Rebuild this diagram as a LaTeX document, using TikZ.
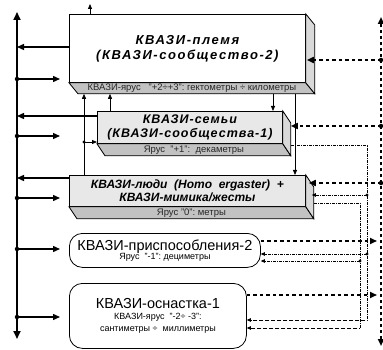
\documentclass[tikz,border=0pt]{standalone}
\usepackage{fontspec}
\setmainfont{Liberation Sans}
\newfontfamily\titlefont[LetterSpace=12]{Liberation Sans}
\newfontfamily\narrowtitlefont[LetterSpace=8]{Liberation Sans}
\usetikzlibrary{arrows.meta,calc}

\definecolor{bandgray}{gray}{0.76}
\definecolor{sidegray}{gray}{0.85}
\definecolor{facegray}{gray}{0.91}

\newcommand{\toolname}{\fontsize{14.5}{16}\selectfont}
\newcommand{\tiersize}{\fontsize{9}{9.5}\selectfont}

\tikzstyle{tier}=[draw,line width=0.8pt,inner sep=1pt,anchor=north west,align=center,font=\titlefont\bfseries\itshape\fontsize{13}{15}\selectfont]
\tikzstyle{tool}=[draw,line width=0.8pt,rounded corners=13pt,inner sep=1pt,anchor=north west,align=center]
\tikzstyle{band}=[font=\fontsize{9.5}{10}\selectfont,text=black!85,inner sep=0pt]
\tikzstyle{junction}=[circle,fill,inner sep=0pt,minimum size=4.5pt]
\tikzstyle{smalldot}=[circle,fill,inner sep=0pt,minimum size=3.2pt]
\tikzstyle{axis}=[draw,line width=1.8pt,{Triangle[length=8pt,width=7pt]}-{Triangle[length=8pt,width=7pt]}]
\tikzstyle{dashaxis}=[draw,line width=1.8pt,dash pattern=on 3pt off 3pt,{Triangle[length=7pt,width=6pt]}-{Triangle[length=7pt,width=6pt]}]
\tikzstyle{solidarrow}=[draw,line width=1.4pt,-{Triangle[length=7pt,width=6pt]}]
\tikzstyle{thinarrow}=[draw,line width=0.8pt,-{Triangle[length=5pt,width=4pt]}]
\tikzstyle{dashedarrow}=[draw,line width=1.6pt,dash pattern=on 3.5pt off 3pt,-{Triangle[length=7pt,width=6pt]}]
\tikzstyle{dashdot}=[draw,line width=0.6pt,dash pattern=on 3pt off 1.2pt on 0.6pt off 1.2pt]
\tikzstyle{dashdotarrow}=[dashdot,-{Triangle[length=4pt,width=3.5pt]}]

\begin{document}
\begin{tikzpicture}[x=1pt,y=-1pt]
\useasboundingbox (0,0) rectangle (383,350);

    % three levels drawn as boxes with depth
    \node[tier,minimum width=236,minimum height=68] (tribe) at (69,14) {КВАЗИ-племя\\(КВАЗИ-сообщество-2)};
    \node[tier,fill=facegray,minimum width=185,minimum height=32,font=\narrowtitlefont\bfseries\itshape\fontsize{12.5}{14}\selectfont] (families) at (97,111) {КВАЗИ-семьи\\(КВАЗИ-сообщества-1)};
    \node[tier,fill=facegray,minimum width=236,minimum height=31,font=\bfseries\itshape\fontsize{12}{13}\selectfont] (people) at (69,175) {КВАЗИ-люди~~(Homo~~ergaster)~~+\\КВАЗИ-мимика/жесты};

    \foreach \b/\dx/\dy in {tribe/9/11, families/8/12, people/8/12} {
        \filldraw[fill=bandgray,line width=0.8pt] (\b.south west) -- (\b.south east) -- ++(\dx,\dy) -- ($(\b.south west)+(\dx,\dy)$) -- cycle;
        \filldraw[fill=sidegray,line width=0.8pt] (\b.north east) -- ++(\dx,\dy) -- ($(\b.south east)+(\dx,\dy)$) -- (\b.south east) -- cycle;
    }
    \node[band] (tribelevel) at ($(tribe.south)+(4.5,5.8)$) {КВАЗИ-ярус~~~"+2÷+3":~гектометры~÷~километры};
    \node[band] (familieslevel) at ($(families.south)+(4,6.2)$) {Ярус~~"+1":~~декаметры};
    \node[band] (peoplelevel) at ($(people.south)+(4,6.2)$) {Ярус~"0":~метры};
    \coordinate (tribebase) at ($(tribe.south)+(0,11)$);

    % lower levels
    \node[tool,minimum width=191,minimum height=34] (adapt) at (69,233) {\toolname КВАЗИ-приспособления-2\\[-3pt]\tiersize Ярус~~"-1":~дециметры};
    \node[tool,minimum width=177,minimum height=65] (gear) at (69,283) {\toolname КВАЗИ-оснастка-1\\[-1pt]\tiersize КВАЗИ-ярус~~"-2÷~-3":\\[-0.5pt]\tiersize сантиметры~÷~~миллиметры};

    % left axis
    \coordinate (axistop) at (17,12);
    \coordinate (axisbot) at (17,339);
    \draw[axis] (axisbot) -- (axistop);

    \foreach \b/\y in {tribe/47,families/116,people/178} {
        \coordinate (in\b) at (17,\y);
        \draw[solidarrow] (in\b -| \b.west) -- (in\b);
    }
    \foreach \n/\y in {a/79,b/136,c/198,d/249,e/317} {
        \node[junction] (out\n) at (17,\y) {};
        \coordinate (tip\n) at (60,\y);
        \draw[solidarrow] (out\n.center) -- (tip\n);
    }

    % links between the levels
    \coordinate (up) at (90,4);
    \draw[thinarrow] (up |- tribe.north) -- (up);
    \coordinate (lka) at (84,0);
    \coordinate (lkb) at (110,0);
    \coordinate (lkc) at (273,0);
    \coordinate (lkd) at (295,0);
    \draw[thinarrow] (lka |- people.north) -- (lka |- tribebase);
    \node[smalldot] (split) at (84,142) {};
    \draw[thinarrow] (split.center) -- (split -| families.west);
    \draw[thinarrow] (lkb |- families.north) -- (lkb |- tribebase);
    \draw[thinarrow] (lkc |- tribebase) -- (lkc |- families.north);
    \draw[thinarrow] (lkd |- tribebase) -- (lkd |- people.north);

    % right axis
    \coordinate (rtop) at (381,17);
    \coordinate (rbot) at (381,346);
    \draw[dashaxis] (rbot) -- (rtop);

    \foreach \b/\y/\dx in {tribe/60/1, families/126/8, people/183/3} {
        \node[junction] (back\b) at (381,\y) {};
        \draw[dashedarrow] (back\b.center) -- ($(back\b -| \b.east)+(\dx,0)$);
    }
    \coordinate (fa) at (377,241);
    \coordinate (fb) at (377,295);
    \draw[dashedarrow] (fa -| adapt.east) -- (fa);
    \draw[dashedarrow] (fb -| gear.east) -- (fb);

    % dash-dot feedback
    \coordinate (busa) at (367,320);
    \coordinate (busb) at (360,328);
    \draw[dashdotarrow] ($(families.south east)+(8,2)$) -| (busa) -- (busa -| gear.east);
    \draw[dashdotarrow] ($(people.south east)+(8,-4)$) -| (busb) -- (busb -| gear.east);
    \node[smalldot] (ja) at (367,195) {};
    \node[smalldot] (jb) at (367,254) {};
    \node[smalldot] (jc) at (360,261) {};
    \draw[dashdotarrow] (ja.center) -- ($(ja -| people.east)+(6,0)$);
    \draw[dashdotarrow] (jb.center) -- (jb -| adapt.east);
    \draw[dashdotarrow] (jc.center) -- (jc -| adapt.east);

\end{tikzpicture}
\end{document}
